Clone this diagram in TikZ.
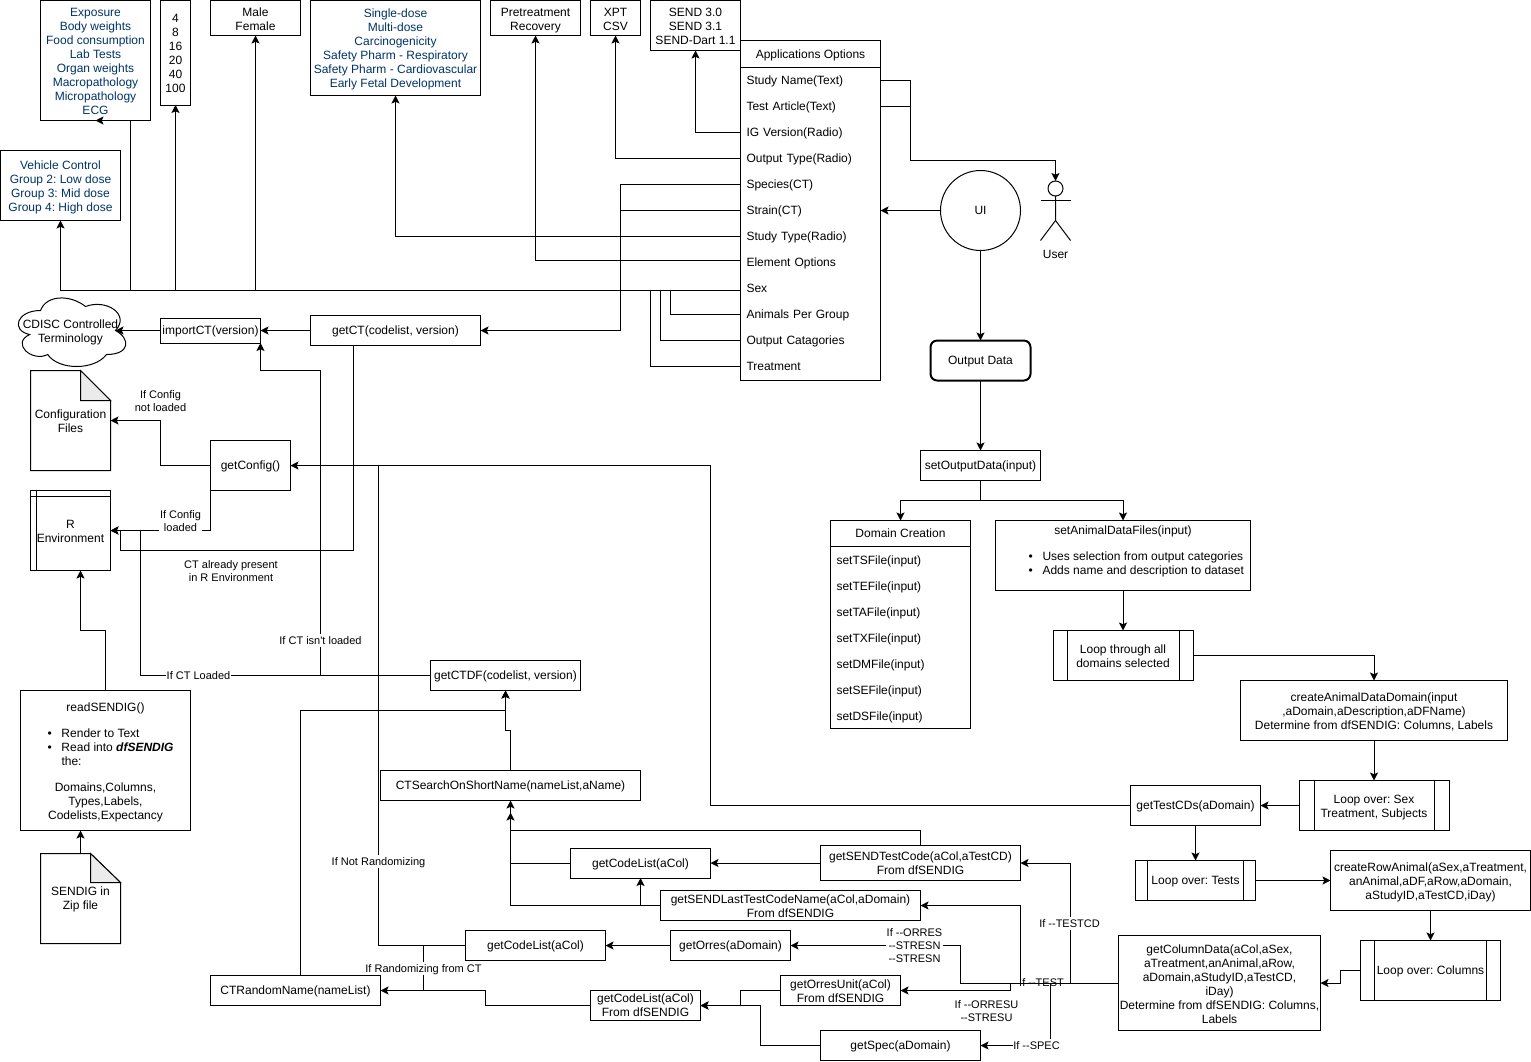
\documentclass[tikz,border=0pt]{standalone}
\usepackage{fontspec}
\setmainfont{Liberation Sans}[Ligatures=TeXOff]
\usetikzlibrary{arrows.meta,calc}
\definecolor{blu}{HTML}{003366}
\newcommand{\ML}{\rule{0pt}{9.6pt}}
\newcommand{\MLS}{\rule{0pt}{8.2pt}}
\newcommand{\LML}{\rule{0pt}{7.6pt}}
\tikzset{
  txtfix/.style={execute at begin node={\rule{0pt}{8.4pt}},execute at end node={\rule[-1.8pt]{0pt}{1.8pt}}},
  lblfix/.style={execute at begin node={\rule{0pt}{7.7pt}},execute at end node={\rule[-1.65pt]{0pt}{1.65pt}}},
  bx/.style={draw=black,line width=.75pt,inner sep=0pt,outer sep=0pt,align=center,font=\fontsize{9}{10.5}\selectfont,txtfix},
  plain/.style={inner sep=0pt,outer sep=0pt,align=center,font=\fontsize{9}{10.5}\selectfont,txtfix},
  rowitem/.style={inner xsep=4.5pt,inner ysep=0pt,outer sep=0pt,anchor=west,minimum height=19.5pt,text width=96pt,align=left,font=\fontsize{9}{10.5}\selectfont,txtfix},
  lbl/.style={inner sep=.5pt,outer sep=0pt,align=center,font=\fontsize{8.25}{9.75}\selectfont,lblfix},
  wlbl/.style={lbl,fill=white},
  ln/.style={draw=black,line width=.75pt},
  arr/.style={ln,-{Stealth[length=6pt,width=6pt,inset=1.3pt]}},
}
\newcommand{\BX}[7][]{%
  \pgfmathsetmacro{\bxw}{(#5-#3)*0.75}%
  \pgfmathsetmacro{\bxh}{(#6-#4)*0.75}%
  \node[bx,minimum width=\bxw pt,minimum height=\bxh pt,#1] (#2) at ({(#3+#5)/2},{(#4+#6)/2}) {#7};}
\newcommand{\PROCLINES}[2]{%
  \draw[ln] ([xshift=#2]#1.north west) -- ([xshift=#2]#1.south west);
  \draw[ln] ([xshift=-#2]#1.north east) -- ([xshift=-#2]#1.south east);}
\newcommand{\BUL}[1]{\makebox[10.5pt][l]{\textbullet}#1}
\begin{document}
\frenchspacing
\begin{tikzpicture}[x=.75pt,y=-.75pt]
\useasboundingbox (-.5,-.5) rectangle (1530.5,1060.5);
% top option boxes
\BX[text=blu]{expo}{40}{0}{150}{120}{\ML Exposure\\Body weights\\Food consumption\\Lab Tests\\Organ weights\\Macropathology\\Micropathology\\ECG}
\BX{nums}{160}{0}{190}{104.5}{\ML 4\\8\\16\\20\\40\\100}
\BX{sexv}{210}{0}{300}{35}{\ML Male\\Female}
\BX[text=blu]{stype}{310}{0}{480}{95}{\MLS Single-dose\\Multi-dose\\Carcinogenicity\\Safety Pharm - Respiratory\\Safety Pharm - Cardiovascular\\Early Fetal Development}
\BX{elem}{490}{0}{580}{35}{\ML Pretreatment\\Recovery}
\BX{xpt}{590}{0}{640}{35}{\ML XPT\\CSV}
\BX{send}{650}{0}{740}{50}{\ML SEND 3.0\\SEND 3.1\\SEND-Dart 1.1}
\BX[text=blu]{vehicle}{0}{150}{120}{220}{\ML Vehicle Control\\Group 2: Low dose\\Group 3: Mid dose\\Group 4: High dose}
% application options
\BX{apps}{740}{40}{880}{380}{}
\BX{appsh}{740}{40}{880}{67}{Applications Options}
\node[rowitem] (studyname) at (740,80) {Study Name(Text)};
\node[rowitem] (testart) at (740,106) {Test Article(Text)};
\node[rowitem] (igver) at (740,132) {IG Version(Radio)};
\node[rowitem] (outtype) at (740,158) {Output Type(Radio)};
\node[rowitem] (species) at (740,184) {Species(CT)};
\node[rowitem] (strain) at (740,210) {Strain(CT)};
\node[rowitem] (studytype) at (740,236) {Study Type(Radio)};
\node[rowitem] (elemopt) at (740,262) {Element Options};
\node[rowitem] (sexrow) at (740,288) {Sex};
\node[rowitem] (animals) at (740,314) {Animals Per Group};
\node[rowitem] (outcat) at (740,340) {Output Catagories};
\node[rowitem] (treat) at (740,366) {Treatment};
% UI, user
\node[draw=black,line width=.75pt,circle,minimum size=60pt,inner sep=0pt,outer sep=0pt,font=\fontsize{9}{10.5}\selectfont,txtfix] (ui) at (980,210) {UI};
\node[draw=black,line width=.75pt,circle,minimum size=11.25pt,inner sep=0pt,outer sep=0pt] (userhead) at (1055,188) {};
\draw[ln] (userhead.south) -- (1055,220) -- (1040,240);
\draw[ln] (1055,220) -- (1070,240);
\draw[ln] (1040,200) -- (1070,200);
\node[plain] (userlbl) at (1055,254) {User};
\BX[line width=1.5pt,rounded corners=5pt]{outdata}{930}{340}{1030}{380}{Output Data}
\BX{setout}{920}{450}{1040}{480}{setOutputData(input)}
% domain creation
\BX{domain}{830}{520}{970}{728}{}
\BX{domainh}{830}{520}{970}{546}{Domain Creation}
\node[rowitem] (ts) at (830,560) {setTSFile(input)};
\node[rowitem] (te) at (830,586) {setTEFile(input)};
\node[rowitem] (ta) at (830,612) {setTAFile(input)};
\node[rowitem] (tx) at (830,638) {setTXFile(input)};
\node[rowitem] (dm) at (830,664) {setDMFile(input)};
\node[rowitem] (se) at (830,690) {setSEFile(input)};
\node[rowitem] (ds) at (830,716) {setDSFile(input)};
% animal data
\BX{anim}{995}{520}{1250}{590}{}
\node[plain] (animt) at (1122.5,530) {setAnimalDataFiles(input)};
\node[plain,anchor=west] (animb) at (1028,556) {\BUL{Uses selection from output categories}};
\node[plain,anchor=west] (animc) at (1028,570) {\BUL{Adds name and description to dataset}};
\BX{loopd}{1052.5}{630}{1192.5}{680}{\ML Loop through all\\domains selected}
\PROCLINES{loopd}{10.5pt}
\BX{cadd}{1240}{680}{1507}{740}{\ML createAnimalDataDomain(input\\,aDomain,aDescription,aDFName)\\Determine from dfSENDIG: Columns, Labels}
\BX{loops}{1298.5}{780}{1448.5}{830}{\ML Loop over: Sex\\Treatment, Subjects}
\PROCLINES{loops}{11.25pt}
\BX{gtc}{1130}{785}{1260}{825}{getTestCDs(aDomain)}
\BX{loopt}{1135}{860}{1255}{900}{Loop over: Tests}
\PROCLINES{loopt}{9pt}
\BX{cra}{1330}{850}{1530}{910}{\ML createRowAnimal(aSex,aTreatment,\\anAnimal,aDF,aRow,aDomain,\\aStudyID,aTestCD,iDay)}
\BX{loopc}{1360}{940}{1500}{1000}{Loop over: Columns}
\PROCLINES{loopc}{10.5pt}
\BX{gcd}{1118}{935}{1320}{1030}{\ML getColumnData(aCol,aSex,\\aTreatment,anAnimal,aRow,\\aDomain,aStudyID,aTestCD,\\iDay)\\Determine from dfSENDIG: Columns,\\Labels}
% functions
\BX{stc}{820}{845}{1020}{880}{\MLS getSENDTestCode(aCol,aTestCD)\\From dfSENDIG}
\BX{cl1}{570}{847.5}{710}{877.5}{getCodeList(aCol)}
\BX{sltc}{660}{890}{920}{920}{\ML getSENDLastTestCodeName(aCol,aDomain)\\From dfSENDIG}
\BX{cl2}{465}{930}{605}{960}{getCodeList(aCol)}
\BX{orres}{670}{930}{790}{960}{getOrres(aDomain)}
\BX{unit}{780}{975}{900}{1005}{\ML getOrresUnit(aCol)\\From dfSENDIG}
\BX{cl3}{590}{990}{700}{1020}{\MLS getCodeList(aCol)\\From dfSENDIG}
\BX{spec}{820}{1030}{980}{1060}{getSpec(aDomain)}
\BX{rnd}{210}{975}{380}{1005}{CTRandomName(nameList)}
\BX{srch}{380}{770}{640}{800}{CTSearchOnShortName(nameList,aName)}
\BX{ctdf}{430}{660}{580}{690}{getCTDF(codelist, version)}
\BX{getct}{310}{315}{480}{345}{getCT(codelist, version)}
\BX{imp}{160}{317.5}{260}{342.5}{importCT(version)}
\BX{gcfg}{210}{440}{290}{490}{getConfig()}
% R environment
\BX{renv}{30}{490}{110}{570}{\ML R\\Environment}
\draw[ln] ([xshift=4.5pt]renv.north west) -- ([xshift=4.5pt]renv.south west);
\draw[ln] ([yshift=-4.5pt]renv.north west) -- ([yshift=-4.5pt]renv.north east);
% notes
\node[plain,minimum width=60pt,minimum height=75pt] (cfg) at (70,420) {\ML Configuration\\Files};
\draw[ln] (cfg.north west) -- (80,370) -- (110,400) -- (cfg.south east) -- (cfg.south west) -- cycle;
\fill[black!8] (80,370) -- (110,400) -- (80,400) -- cycle;
\draw[ln] (80,370) -- (80,400) -- (110,400) -- cycle;
\node[plain,minimum width=60pt,minimum height=67.5pt] (zip) at (80,898) {\MLS SENDIG in\\Zip file};
\draw[ln] (zip.north west) -- (90,853) -- (120,882) -- (zip.south east) -- (zip.south west) -- cycle;
\fill[black!8] (90,853) -- (120,882) -- (90,882) -- cycle;
\draw[ln] (90,853) -- (90,882) -- (120,882) -- cycle;
% cloud
\draw[ln] (40,310) .. controls (16,310) and (10,330) .. (29.2,334)
  .. controls (10,342.8) and (31.6,362) .. (47.2,354)
  .. controls (58,370) and (94,370) .. (106,354)
  .. controls (130,354) and (130,338) .. (115,330)
  .. controls (130,314) and (106,298) .. (85,306)
  .. controls (70,294) and (46,294) .. (40,310) -- cycle;
\node[plain] (cdisc) at (70,330.5) {\MLS CDISC Controlled\\Terminology};
% readSENDIG
\BX{rds}{20}{690}{190}{830}{}
\node[plain] (rdst) at (105,707) {readSENDIG()};
\node[plain,anchor=west] (rdsa) at (47,733) {\BUL{Render to Text}};
\node[plain,anchor=west] (rdsb) at (47,747) {\BUL{Read into \textbf{\textit{dfSENDIG}}}};
\node[plain,anchor=west] (rdsc) at (61,761) {the:};
\node[plain] (rdsd) at (105,801) {\MLS Domains,Columns,\\Types,Labels,\\Codelists,Expectancy};
% connectors: application options
\draw[ln] (studyname.west -| apps.east) -- (910,80) -- (910,160);
\draw[ln] (testart.west -| apps.east) -- (910,106) -- (910,160);
\draw[arr] (910,160) -- (1055,160) -- (userhead.north);
\draw[arr] (igver.west) -- (695,132) -- (send.south);
\draw[arr] (outtype.west) -- (615,158) -- (xpt.south);
\draw[arr] (species.west) -- (620,184) -- (620,330) -- (getct.east);
\draw[ln] (strain.west) -- (620,210);
\draw[arr] (studytype.west) -- (395,236) -- (stype.south);
\draw[arr] ([yshift=1.5pt]elemopt.west) -- (535,260) -- (elem.south);
\draw[arr] ([yshift=-1.5pt]sexrow.west) -- (60,290) -- (vehicle.south);
\draw[arr] (130,290) -- (130,120) -- (expo.south);
\draw[arr] (175,290) -- (nums.south);
\draw[arr] (255,290) -- (sexv.south);
\draw[ln] (animals.west) -- (670,314) -- (670,290);
\draw[ln] (outcat.west) -- (660,340) -- (660,290);
\draw[ln] (treat.west) -- (650,366) -- (650,290);
\draw[arr] (ui.west) -- (apps.east |- ui.west);
\draw[arr] (ui.south) -- (outdata.north);
\draw[arr] (outdata.south) -- (setout.north);
\draw[arr] (setout.south) -- (980,500) -- (900,500) -- (domainh.north);
\draw[arr] (980,500) -- (1122.5,500) -- (anim.north);
\draw[arr] (anim.south) -- (loopd.north);
\draw[arr] (loopd.east) -- (1373.5,655) -- (cadd.north);
\draw[arr] (cadd.south) -- (loops.north);
\draw[arr] (loops.west) -- (gtc.east);
\draw[arr] (gtc.west) -- (710,805) -- (710,465) -- (gcfg.east);
\draw[arr] (gtc.south) -- (loopt.north);
\draw[arr] (loopt.east) -- (cra.west);
\draw[arr] (cra.south) -- (loopc.north);
\draw[arr] (loopc.west) -- (1340,970) -- (1340,982.5) -- (gcd.east);
% connectors: getColumnData fan
\draw[arr] (gcd.west) -- (1069.5,982.5) -- (1069.5,862.5) -- (stc.east);
\draw[arr] (gcd.west) -- (1019.5,982.5) -- (1019.5,905) -- (sltc.east);
\draw[arr] (gcd.west) -- (959.5,982.5) -- (959.5,945) -- (orres.east);
\draw[arr] (gcd.west) -- (1009.5,982.5) -- (1009.5,990) -- (unit.east);
\draw[arr] (gcd.west) -- (1049.5,982.5) -- (1049.5,1045) -- (spec.east);
% connectors: function calls
\draw[arr] (stc.west) -- (cl1.east);
\draw[arr] (stc.north) -- (920,830) -- (510,830) -- (srch.south -| 510,0);
\draw[ln] (cl1.west) -- (510,862.5);
\draw[arr] (sltc.west) -- (510,905) -- (510,812);
\draw[arr] (640,905) -- (cl1.south -| 640,0);
\draw[arr] (orres.west) -- (cl2.east);
\draw[ln] (cl2.west) -- (377.5,945) -- (377.5,465);
\draw[ln] (422.5,945) -- (422.5,990);
\draw[arr] (cl3.west) -- (485,1005) -- (485,990) -- (rnd.east);
\draw[arr] (unit.west) -- (740,990) -- (740,1005) -- (cl3.east);
\draw[arr] (spec.west) -- (760,1045) -- (760,1005) -- (740,1005) -- (cl3.east);
\draw[arr] (rnd.north -| 300,0) -- (300,710) -- (505,710) -- (ctdf.south);
\draw[arr] (srch.north -| 510,0) -- (510,730) -- (505,730) -- (ctdf.south);
\draw[arr] (ctdf.west) -- (320,675) -- (320,370) -- (260,370) -- (imp.south east);
\draw[ln] (ctdf.west) -- (140,675) -- (140,530);
\draw[arr] (getct.west) -- (imp.east);
\draw[arr] (imp.west) -- (imp.west -| 115,0);
\draw[arr] (getct.south -| 352.5,0) -- (352.5,550) -- (120,550) -- (120,530) -- (renv.east);
\draw[arr] (gcfg.west) -- (160,465) -- (160,420) -- (cfg.east);
\draw[arr] (gcfg.south west) -- (210,530) -- (renv.east);
\draw[arr] (rds.north) -- (105,630) -- (80,630) -- (renv.south -| 80,0);
\draw[arr] (zip.north) -- (rds.south -| zip.north);
% labels
\node[lbl] (l1) at (160,400.5) {\LML If Config\\not loaded};
\node[wlbl] (l2) at (180,520.5) {\LML If Config\\loaded};
\node[lbl] (l3) at (230.5,570.5) {\LML CT already present\\in R Environment};
\node[wlbl] (l4) at (320,640) {If CT isn't loaded};
\node[wlbl] (l5) at (198,675) {If CT Loaded};
\node[wlbl] (l6) at (378,861) {If Not Randomizing};
\node[wlbl] (l7) at (423,968) {If Randomizing from CT};
\node[wlbl] (l8) at (1069,923) {If --TESTCD};
\node[wlbl] (l9) at (914,945) {\LML If --ORRES\\--STRESN\\--STRESN};
\node[lbl] (l10) at (1041,981.5) {If --TEST};
\node[lbl] (l11) at (986,1011) {\LML If --ORRESU\\--STRESU};
\node[wlbl] (l12) at (1036,1045) {If --SPEC};
\end{tikzpicture}
\end{document}
